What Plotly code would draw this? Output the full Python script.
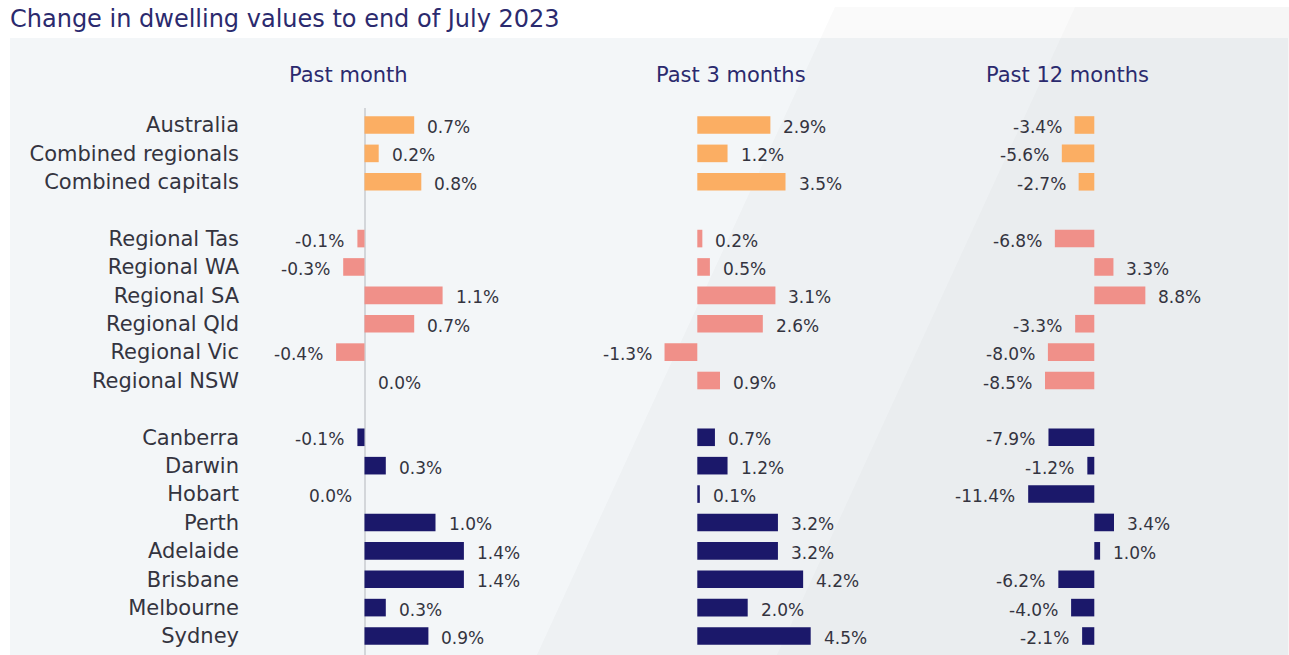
import math
import plotly.graph_objects as go

# ---------------- data ----------------
categories = ["Australia", "Combined regionals", "Combined capitals",
              "Regional Tas", "Regional WA", "Regional SA", "Regional Qld", "Regional Vic", "Regional NSW",
              "Canberra", "Darwin", "Hobart", "Perth", "Adelaide", "Brisbane", "Melbourne", "Sydney"]
groups = ["aggregate"] * 3 + ["regional"] * 6 + ["capital"] * 8

past_month = [0.7, 0.2, 0.8,
              -0.1, -0.3, 1.1, 0.7, -0.4, 0.0,
              -0.1, 0.3, -0.0, 1.0, 1.4, 1.4, 0.3, 0.9]
past_3_months = [2.9, 1.2, 3.5,
                 0.2, 0.5, 3.1, 2.6, -1.3, 0.9,
                 0.7, 1.2, 0.1, 3.2, 3.2, 4.2, 2.0, 4.5]
past_12_months = [-3.4, -5.6, -2.7,
                  -6.8, 3.3, 8.8, -3.3, -8.0, -8.5,
                  -7.9, -1.2, -11.4, 3.4, 1.0, -6.2, -4.0, -2.1]

panel_titles = ["Past month", "Past 3 months", "Past 12 months"]
title_text = "Change in dwelling values to end of July 2023"

# ---------------- styling ----------------
W, H = 1289, 655
FONT = "DejaVu Sans, Verdana, sans-serif"
NAVY = "#2b2a6e"
LABEL = "#34343f"
group_colors = {"aggregate": "#fbae63", "regional": "#f09089", "capital": "#1b186a"}
bar_colors = [group_colors[g] for g in groups]

# slot positions: one blank slot between groups, first category at top
ypos = []
slot = 0
prev = None
for g in groups:
    if prev is not None and g != prev:
        slot += 1
    ypos.append(slot)
    slot += 1
    prev = g
n_slots = slot
ypos = [n_slots - 1 - p for p in ypos]  # invert so Australia is at top


def px_x(p):
    return p / W


def px_y(p):
    return 1 - p / H


# panel geometry: (domain left px, domain right px, zero px, px per 1%)
panels = [
    (245, 560, 364.5, 71.0),
    (600, 930, 697.3, 25.2),
    (960, 1280, 1094.3, 5.8),
]
series = [past_month, past_3_months, past_12_months]

# y mapping: Australia row centre at 125px, Sydney at 636px
row_top_px, row_bot_px = 125, 636
step = (row_bot_px - row_top_px) / (n_slots - 1)
y_top_px, y_bot_px = 108, 655
y_range = [-(y_bot_px - row_bot_px) / step, (n_slots - 1) + (row_top_px - y_top_px) / step]
y_domain = [px_y(y_bot_px), px_y(y_top_px)]

fig = go.Figure()
annotations = []
layout_axes = {}

for i, (vals, (dl, dr, z, scale)) in enumerate(zip(series, panels)):
    ax = "" if i == 0 else str(i + 1)
    fig.add_trace(go.Bar(
        x=vals, y=ypos, orientation="h", width=0.62,
        marker=dict(color=bar_colors, line=dict(width=0)),
        xaxis="x" + ax, yaxis="y" + ax, showlegend=False, hoverinfo="x+y",
    ))
    x_range = [(dl - z) / scale, (dr - z) / scale]
    layout_axes["xaxis" + ax] = dict(
        domain=[px_x(dl), px_x(dr)], range=x_range, anchor="y" + ax,
        showgrid=False, showticklabels=False, ticks="",
        zeroline=(i == 0), zerolinecolor="#d3d6da", zerolinewidth=2,
        showline=False, fixedrange=True,
    )
    layout_axes["yaxis" + ax] = dict(
        domain=y_domain, range=y_range, anchor="x" + ax,
        showgrid=False, zeroline=False, showline=False, ticks="",
        tickmode="array", tickvals=ypos if i == 0 else [],
        ticktext=categories if i == 0 else [],
        showticklabels=(i == 0),
        tickfont=dict(family=FONT, size=21, color=LABEL),
        ticklabelstandoff=5, fixedrange=True,
    )
    for v, y in zip(vals, ypos):
        neg = math.copysign(1, v) < 0
        txt = ("-" if v < 0 else "") + f"{abs(v):.1f}%"
        annotations.append(dict(
            x=v, y=y, xref="x" + ax, yref="y" + ax, text=txt, showarrow=False,
            xanchor="right" if neg else "left", xshift=-11 if neg else 11, yshift=-2,
            font=dict(family=FONT, size=17, color=LABEL),
        ))

# panel headers
for t, cx in zip(panel_titles, [348, 731, 1067]):
    annotations.append(dict(
        x=px_x(cx), y=px_y(75), xref="paper", yref="paper", text=t, showarrow=False,
        xanchor="center", yanchor="middle", font=dict(family=FONT, size=21, color=NAVY),
    ))

# main title
annotations.append(dict(
    x=px_x(8), y=px_y(19), xref="paper", yref="paper", text=title_text, showarrow=False,
    xanchor="left", yanchor="middle", font=dict(family=FONT, size=24, color=NAVY),
))


def band(x_top, slope=0.46, y0=7):
    xb = x_top - slope * (H - y0)
    return (f"M {px_x(x_top)} {px_y(y0)} L {px_x(W)} {px_y(y0)} L {px_x(W)} 0 "
            f"L {px_x(xb)} 0 Z")


shapes = [
    dict(type="rect", xref="paper", yref="paper", x0=px_x(10), x1=px_x(1288),
         y0=0, y1=px_y(38), fillcolor="#f3f6f8", line=dict(width=0), layer="below"),
    dict(type="path", xref="paper", yref="paper", path=band(835),
         fillcolor="rgba(60,60,60,0.025)", line=dict(width=0), layer="below"),
    dict(type="path", xref="paper", yref="paper", path=band(1075),
         fillcolor="rgba(60,60,60,0.02)", line=dict(width=0), layer="below"),
]

fig.update_layout(
    width=W, height=H, margin=dict(l=0, r=0, t=0, b=0),
    paper_bgcolor="white", plot_bgcolor="rgba(0,0,0,0)",
    annotations=annotations, shapes=shapes, bargap=0.3,
    font=dict(family=FONT), **layout_axes,
)

fig.write_html("out.html", config={"displayModeBar": False},
               post_script="document.body.style.margin='0';")
